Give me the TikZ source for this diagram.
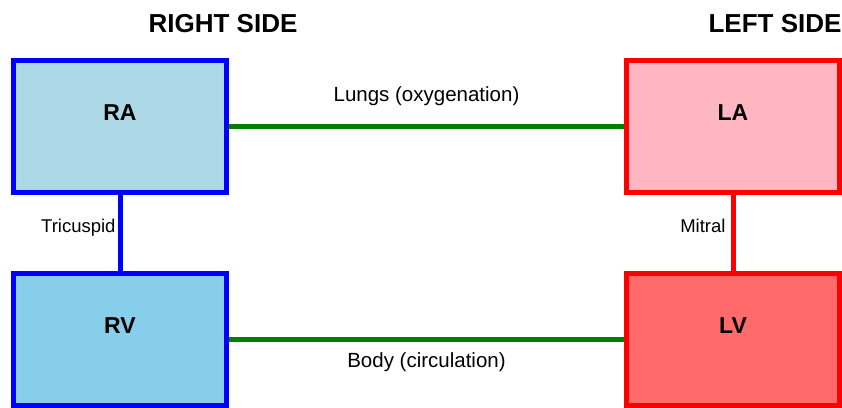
\documentclass[tikz,border=0pt]{standalone}
\usepackage{fontspec}
\setmainfont{Liberation Sans}
\usetikzlibrary{positioning}
\definecolor{atriumblue}{RGB}{173,216,230}
\definecolor{ventricleblue}{RGB}{135,206,235}
\definecolor{atriumred}{RGB}{255,182,193}
\definecolor{ventriclered}{RGB}{255,107,107}
\definecolor{vesselgreen}{RGB}{0,128,0}
\definecolor{sideblue}{RGB}{0,0,255}
\definecolor{sidered}{RGB}{255,0,0}
\newcommand{\chamberlab}[1]{\raisebox{6pt}[0pt][0pt]{#1}}
\tikzset{
  chamber/.style={line width=5pt, minimum width=213pt, minimum height=132pt,
                  inner sep=0pt, font=\fontsize{23}{27}\selectfont\bfseries},
  rightchamber/.style={chamber, draw=sideblue},
  leftchamber/.style={chamber, draw=sidered},
  sidetitle/.style={font=\fontsize{26}{30}\selectfont\bfseries, inner sep=0pt},
  vessel/.style={vesselgreen, line width=5pt},
  valveright/.style={sideblue, line width=5pt},
  valveleft/.style={sidered, line width=5pt},
  vessellab/.style={font=\fontsize{20.5}{24}\selectfont, inner sep=0pt, text=black, anchor=base},
  valvelab/.style={font=\fontsize{18.5}{22}\selectfont, inner sep=0pt, text=black, anchor=base east},
}
\begin{document}
\begin{tikzpicture}[x=1pt,y=-1pt]
  \path[use as bounding box] (0,0) rectangle (842,407);

  \node[sidetitle] (rtitle) at (223,24) {RIGHT SIDE};
  \node[sidetitle] (ltitle) at (775,24) {LEFT SIDE};

  \node[rightchamber, fill=atriumblue] (RA) at (120,126.5) {\chamberlab{RA}};
  \node[rightchamber, fill=ventricleblue] (RV) at (120,339) {\chamberlab{RV}};
  \node[leftchamber, fill=atriumred] (LA) at (733,126.5) {\chamberlab{LA}};
  \node[leftchamber, fill=ventriclered] (LV) at (733,339) {\chamberlab{LV}};

  % pulmonary and systemic loops
  \draw[vessel] (RA.east) -- node[vessellab, yshift=25.5pt] (lungs) {Lungs (oxygenation)} (LA.west);
  \draw[vessel] (RV.east) -- node[vessellab, yshift=-28pt] (body) {Body (circulation)} (LV.west);

  % valves
  \draw[valveright] (RA.south) -- node[valvelab, xshift=-2pt] (tric) {Tricuspid} (RV.north);
  \draw[valveleft] (LA.south) -- node[valvelab, xshift=-5pt] (mitral) {Mitral} (LV.north);
\end{tikzpicture}
\end{document}
